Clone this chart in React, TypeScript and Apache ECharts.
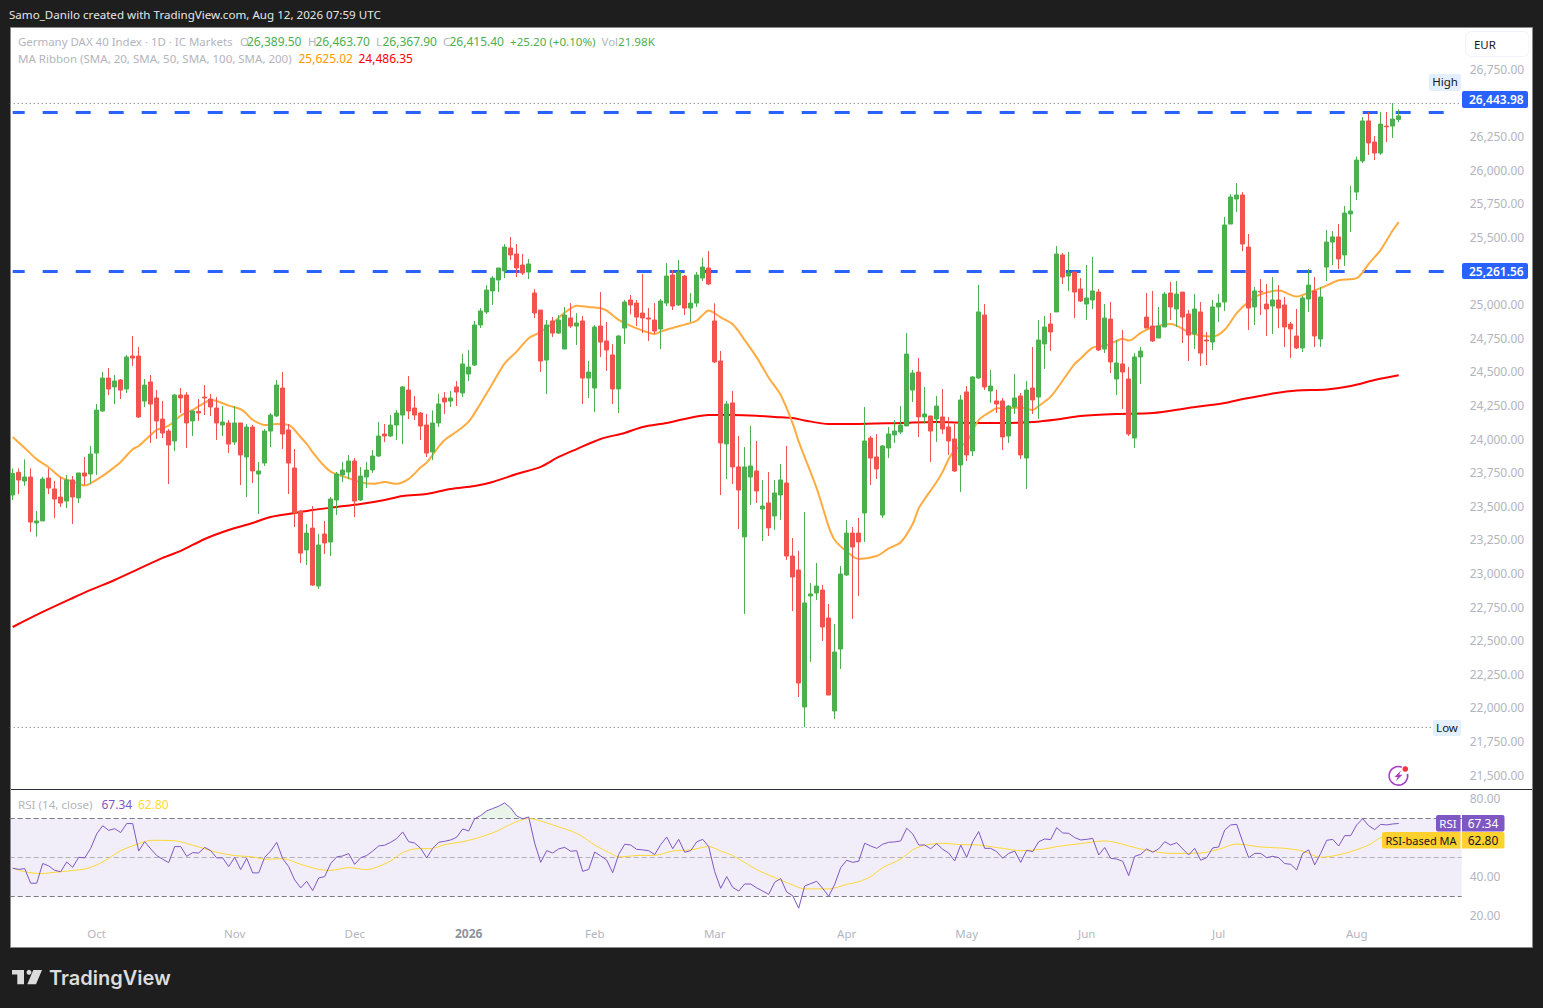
import React, { useEffect, useRef } from "react";
import * as echarts from "echarts";

const FONT = "'Noto Sans', sans-serif";
const slotCount = 242;
const monthIndex = [14, 37, 57, 76, 97, 117, 139, 159, 179, 201, 224];
const monthLabel = ["Oct", "Nov", "Dec", "2026", "Feb", "Mar", "Apr", "May", "Jun", "Jul", "Aug"];
const priceTicks = { min: 21500, max: 27000, step: 250 };
const hiddenPriceTicks = [27000, 26500, 25250];
const rsiTicks = { min: 20, max: 80, step: 20 };
const readingOffset = 22;

// rows are open, high, low, close
const candlesAutumn = [
[23573,23771,23536,23734],[23742,23771,23580,23685],[23677,23838,23642,23707],[23707,23771,23298,23372],[23365,23454,23263,23380],[23380,23709,23380,23692],[23699,23771,23580,23625],[23618,23677,23402,23543],[23558,23707,23484,23513],[23528,23722,23476,23685],
[23685,23714,23357,23558],[23551,23737,23513,23737],[23737,23856,23647,23714],[23729,23938,23655,23878],[23885,24250,23722,24205],[24198,24488,24191,24443],[24443,24518,24317,24362],[24377,24466,24250,24421],[24429,24436,24287,24354],[24362,24615,24332,24600],
[24607,24756,24533,24592],[24607,24674,24146,24153],[24272,24436,24228,24391],[24414,24466,23960,24250],[24295,24354,23990,24124],[24138,24272,23997,24034],[24049,24064,23655,23945],[23975,24324,23900,24317],[24317,24369,24183,24295],[24317,24339,23923,24109],
[24124,24205,24012,24198],[24195,24287,24124,24183],[24302,24391,24168,24295],[24287,24324,24161,24228],[24220,24302,23982,24109],[24094,24235,24012,24116],[24109,24131,23885,23952],[23967,24235,23945,24109],[24109,24109,23647,23871],[23856,24101,23558,24079],
[24079,24094,23662,23752],[23729,23819,23432,23752],[23811,24064,23789,24049],[24049,24183,23930,24168],[24161,24429,24153,24391],[24369,24488,23915,24027],[24057,24101,23580,23811],[23774,23915,23335,23439],[23454,23461,23067,23141],[23164,23357,23052,23290],
[23327,23491,22896,22903],[22896,23283,22874,23201],[23283,23380,23134,23216],[23223,23558,23119,23543],[23536,23744,23424,23729],[23722,23819,23670,23759],[23744,23871,23692,23826],[23826,23848,23409,23528],
];
const candlesWinter = [
[23536,23781,23528,23714],[23707,23819,23625,23759],[23759,23908,23737,23863],[23863,24116,23856,24012],[24027,24101,23967,24012],[24012,24168,24005,24094],[24094,24205,23982,24183],[24168,24384,23952,24377],[24354,24458,24138,24198],[24220,24310,24131,24168],
[24183,24191,23982,24086],[24094,24176,23856,23885],[23893,24203,23833,24109],[24109,24324,24079,24250],[24295,24339,24176,24265],[24272,24347,24228,24295],[24377,24421,24235,24339],[24332,24622,24302,24548],[24473,24652,24421,24525],[24540,24868,24533,24838],
[24838,24964,24815,24942],[24935,25135,24920,25098],[25091,25202,24987,25187],[25173,25262,25083,25262],[25240,25440,25187,25418],[25411,25493,25321,25359],[25366,25440,25195,25262],[25284,25366,25210,25225],[25232,25329,25180,25292],[25076,25106,24890,24927],
[24949,24949,24488,24570],[24577,24875,24324,24838],[24868,24897,24749,24778],[24778,24912,24771,24875],[24659,24972,24659,24912],[24890,25001,24815,24830],[24830,24927,24689,24853],[24868,24905,24250,24443],[24443,24570,24295,24488],[24369,24838,24191,24823],
[24830,25083,24600,24711],[24719,24860,24496,24652],[24615,24696,24250,24362],[24362,24763,24183,24756],[24815,25024,24696,25009],[25024,25061,24917,24987],[25001,25024,24830,24897],[24927,25217,24778,24890],[24890,24964,24719,24882],[24875,25001,24771,24793],
[24808,25031,24659,25016],[25001,25299,24979,25202],[25210,25247,24949,24979],[24987,25321,24979,25232],[25202,25210,24912,24964],[24964,25076,24860,25001],[25001,25232,24972,25210],[25187,25336,25165,25269],[25262,25388,25135,25143],
];
const candlesSpring = [
[24868,24999,24555,24563],[24570,24645,23573,23960],[23953,24273,23692,24250],[24258,24347,23655,23782],[23782,24012,23320,23610],[23261,23930,22688,23782],[23707,24087,23499,23789],[23752,23975,23514,23603],[23469,23685,23231,23491],[23514,23744,23268,23328],
[23417,23685,23313,23588],[23573,23804,23387,23685],[23662,23938,23090,23119],[23119,23253,22710,22963],[23015,23157,22070,22174],[21996,23447,21847,22770],[22822,22918,22331,22837],[22844,23067,22792,22896],[22866,22904,22487,22591],[22658,22762,22085,22085],
[21966,22613,21907,22405],[22427,23045,22279,22985],[22978,23387,22971,23290],[23290,23335,22651,23186],[23290,23402,22822,23224],[23439,24228,23224,23975],[23997,24012,23648,23848],[23856,24027,23692,23767],[23424,23945,23402,23938],[23923,24079,23848,24027],
[24020,24131,23960,24049],[24042,24235,24027,24094],[24087,24778,24087,24622],[24354,24503,24265,24481],[24488,24592,24005,24154],[24154,24377,24106,24176],[24161,24161,23819,24049],[24139,24310,23968,24235],[24154,24362,24027,24064],[24079,24154,23871,23975],
[23990,24101,23744,23752],[23796,24317,23596,24280],[24340,24384,23826,23871],[23901,24459,23863,24451],[24444,25136,24436,24935],[24912,24994,24354,24377],[24347,24503,24258,24384],[24273,24354,24183,24250],[24273,24295,23908,24005],[24012,24243,23960,24235],
[24228,24473,24176,24295],[24310,24332,23841,23871],[23848,24421,23618,24354],[24369,24674,24176,24280],[24302,24875,24139,24726],[24697,24905,24511,24823],[24845,24927,24645,24786],
];
const candlesSummer = [
[24935,25426,24935,25366],[25359,25373,25143,25195],[25202,25381,25091,25225],[25232,25232,24890,25083],[25106,25187,25009,25016],[24994,25284,24875,25039],[25024,25344,24957,25091],[25083,25106,24644,24652],[24659,24994,24629,24890],[24882,25009,24481,24563],
[24436,24726,24317,24555],[24548,24801,24213,24488],[24436,24525,24012,24027],[23997,24629,23923,24600],[24600,24674,24399,24644],[24897,25076,24815,24815],[24830,25091,24711,24719],[24741,24972,24741,24830],[24823,25083,24823,25068],[25076,25158,24875,24972],
[24957,25165,24823,25068],[25083,25083,24704,24897],[24920,24949,24570,24763],[24771,25068,24659,24957],[24935,25009,24533,24629],[24726,24786,24540,24719],[24711,25024,24652,24972],[24972,25068,24860,25001],[25009,25641,24942,25582],[25589,25812,25589,25790],
[25775,25894,25679,25805],[25805,25827,25388,25440],[25418,25515,24801,24964],[24972,25121,24838,25091],[25088,25180,24912,25083],[24994,25143,24756,24957],[24979,25195,24771,25024],[25024,25135,24815,24964],[24987,25046,24674,24823],[24845,24860,24592,24808],
[24756,24957,24659,24667],[24667,25054,24637,25039],[25031,25254,24935,25135],[25091,25195,24674,24756],[24734,25121,24674,25046],[25269,25545,25165,25455],[25455,25537,25284,25493],[25493,25589,25254,25329],[25359,25723,25277,25671],[25664,25872,25530,25686],
[25827,26090,25768,26065],[26058,26385,26043,26356],[26356,26423,26103,26192],[26199,26244,26065,26117],[26117,26423,26103,26333],[26318,26423,26199,26313],[26318,26489,26229,26370],
];
const lastCandle = [26389.5, 26463.7, 26367.9, 26415.4];

// [candle index, value]
const sma20 = [
[0,24027],[2,23945],[4,23861],[6,23801],[8,23727],[10,23695],[12,23665],[13,23683],[15,23737],[17,23804],[18,23841],[20,23935],[21,23960],[23,24042],[24,24079],[26,24112],[27,24146],[28,24186],[30,24228],[32,24283],[33,24302],[34,24295],[36,24260],[38,24233],[39,24198],[40,24154],[42,24116],[44,24124],[46,24116],[48,24025],[49,23975],[50,23913],[52,23807],[53,23769],[54,23749],[56,23720],[58,23690],[60,23678],[62,23692],[64,23678],[66,23715],[68,23801],[69,23836],[71,23955],[72,24005],[74,24067],[76,24141],[78,24278],[80,24426],[82,24575],[84,24662],[86,24761],[88,24808],[90,24873],[92,24952],[94,25004],[96,24994],[98,24984],[99,24967],[101,24898],[103,24853],[105,24818],[107,24793],[108,24811],[110,24838],[112,24863],[114,24893],[115,24935],[116,24967],
[117,24947],[118,24917],[120,24865],[122,24748],[124,24619],[126,24468],[128,24339],[130,24128],[131,23992],[134,23645],[136,23360],[137,23260],[139,23174],[141,23119],[144,23141],[146,23198],[148,23243],[150,23379],[151,23496],[152,23565],[154,23694],[155,23769],[156,23863],[157,23930],[159,23992],[161,24153],[163,24215],[164,24240],[166,24240],[168,24247],[170,24228],[171,24257],[173,24327],
[175,24447],[177,24571],[178,24610],[180,24692],[182,24705],[184,24742],[185,24757],[186,24744],[188,24801],[190,24843],[193,24868],[196,24806],[198,24781],[200,24774],[202,24824],[204,24948],[206,25034],[208,25089],[211,25116],[214,25072],[216,25101],[219,25153],[221,25193],[224,25208],[226,25315],[228,25419],[230,25563],[231,25625.02],
];
const sma200 = [
[0,22613],[5,22725],[10,22829],[13,22889],[17,22963],[21,23045],[25,23127],[28,23179],[32,23268],[36,23335],[40,23387],[43,23432],[47,23461],[50,23484],[54,23506],[58,23528],[62,23558],[65,23588],[69,23603],[73,23640],[77,23662],[80,23692],[84,23751],[88,23804],[91,23878],[94,23937],[98,24012],[102,24057],[105,24101],[109,24131],[112,24161],[116,24190],[120,24190],[124,24185],[127,24176],[130,24168],[132,24150],[136,24123],[140,24123],[148,24131],[154,24138],[160,24131],[166,24131],[170,24138],[174,24157],[178,24183],[184,24198],[190,24205],[196,24243],[202,24280],[205,24309],[210,24350],[214,24373],[219,24380],[223,24406],[227,24451],[231,24486.35],
];
const rsi = [
44.4,43.8,44.2,36.7,36.7,46.8,45.6,43.3,42.6,47.6,44.9,50.0,49.7,54.6,62.0,66.2,63.8,64.7,62.7,67.3,67.3,53.2,58.0,54.3,50.9,49.0,47.3,55.5,55.5,50.5,52.4,52.2,55.1,53.4,49.7,49.7,45.2,50.0,43.7,49.5,42.0,42.0,50.0,53.2,57.7,49.3,45.2,38.4,34.3,37.7,32.9,39.4,40.1,46.8,50.2,50.7,51.9,46.4,49.8,50.9,53.2,55.8,56.2,57.7,59.6,63.0,58.0,57.3,54.6,49.7,54.6,57.7,58.2,58.9,60.3,64.5,63.5,69.8,71.4,73.8,75.0,76.2,
77.9,75.3,71.2,69.7,70.7,57.2,47.4,53.4,52.2,54.3,55.1,53.1,53.4,42.8,43.8,52.7,50.7,48.6,42.1,51.5,56.7,56.3,54.1,53.8,53.4,51.4,56.5,60.4,54.4,59.2,52.6,53.4,57.9,59.2,55.5,42.6,34.1,40.1,34.6,32.7,36.3,36.3,34.3,32.7,31.0,37.2,39.1,32.2,30.3,23.9,35.3,36.5,37.7,34.1,30.0,36.1,44.7,48.5,47.4,48.0,57.2,55.8,54.6,56.7,57.7,57.9,58.4,64.9,62.0,56.3,56.3,54.4,57.0,54.1,52.2,48.1,56.3,50.0,58.0,63.2,54.6,54.6,52.9,
49.5,52.0,53.2,47.4,53.6,52.9,58.0,59.4,59.1,65.2,62.5,62.3,60.1,58.9,59.2,59.7,51.2,55.0,49.5,49.1,48.0,40.6,50.5,51.5,54.3,52.6,54.3,58.0,56.3,57.5,54.3,51.2,54.6,48.5,49.8,54.8,55.3,64.0,66.6,66.9,58.0,49.8,52.0,52.0,49.8,50.5,49.8,46.8,46.4,43.5,52.0,53.8,46.1,52.0,58.7,59.2,55.8,61.1,61.1,66.6,69.8,66.2,64.2,66.9,66.6,67.1,67.34,
];
// [candle index, value]
const rsiMa = [
[0,44.4],[2,42.6],[5,41.6],[6,42.0],[8,42.6],[12,44.0],[14,46.1],[16,49.5],[18,53.4],[21,57.0],[23,58.7],[27,58.5],[30,56.2],[34,52.6],[37,50.9],[40,50.2],[42,49.0],[45,49.3],[48,46.4],[51,43.8],[53,43.3],[56,44.7],[59,43.7],[60,44.2],[63,48.1],[65,52.4],[67,54.3],[70,54.6],[72,56.5],[75,58.0],[78,60.4],[81,63.8],
[82,65.5],[83,66.9],[84,68.3],[86,70.0],[88,68.6],[90,66.6],[94,62.3],[97,56.3],[100,51.5],[101,50.2],[104,50.9],[107,51.0],[110,53.2],[113,53.8],[116,55.5],[118,53.2],[120,50.9],[124,43.7],[127,39.6],[130,35.8],[132,33.8],[136,33.8],[139,36.1],[141,37.5],[143,40.1],[145,44.7],[148,49.1],[150,53.8],[152,56.2],[155,57.2],[158,56.5],[161,56.3],[164,55.0],
[165,54.6],[168,53.4],[172,54.3],[174,55.5],[178,57.0],[182,58.4],[184,57.5],[186,55.8],[189,53.6],[193,52.0],[198,52.2],[201,54.1],[204,56.8],[208,55.3],[212,54.6],[215,53.2],[218,50.0],[222,52.0],[226,56.3],[228,60.1],[231,62.8],
];
const resistanceLevels = [26443.98, 25261.56];
const highLevel = 26512;
const lowLevel = 21866;
const rsiBands = [70, 50, 30];

const C = {
  up: "#4caf50", down: "#f05350", axis: "#b2b5be", dark: "#131722", blue: "#2962ff",
  sma20: "#ffab40", sma200: "#ff0000", rsi: "#7e57c2", rsiMa: "#fdd835", badge: "#ffd12e",
};

function text(x: number, y: number, t: string, fill: string, extra: any = {}) {
  return {
    type: "text", x, y, z: 100,
    style: { text: t, fill, font: `${extra.weight || 400} ${extra.size || 12}px ${extra.family || FONT}`, textAlign: extra.align || "left", textVerticalAlign: "middle" },
  };
}
function box(x: number, y: number, w: number, h: number, fill: string, r: any = 0, stroke?: string) {
  return { type: "rect", z: 99, shape: { x, y, width: w, height: h, r }, style: { fill, stroke } };
}

export default function App() {
  const ref = useRef<HTMLDivElement>(null);
  useEffect(() => {
    document.body.style.margin = "0";
    document.body.style.background = "#1e1e1e";
    const chart = echarts.init(ref.current!, undefined, { renderer: "svg" });
    const rows = [...candlesAutumn, ...candlesWinter, ...candlesSpring, ...candlesSummer]
      .map((r) => r.map((v) => v + readingOffset));
    rows.push(lastCandle);
    const candleData = rows.map(([o, h, l, c]) => [o, c, l, h]);
    const categories = Array.from({ length: slotCount }, (_, i) => String(i));
    const overbought = rsi.map((v) => (v > 70 ? v : null));
    const gridLeft = 9.7, gridWidth = 1452;
    const lbl = { size: 11.45 };

    chart.setOption({
      animation: false,
      backgroundColor: "#1e1e1e",
      tooltip: { show: false },
      grid: [
        { left: gridLeft, width: gridWidth, top: 37.35, height: 739.25 },
        { left: gridLeft, width: gridWidth, top: 798.8, height: 117 },
      ],
      xAxis: [
        { type: "category", gridIndex: 0, data: categories, axisLine: { show: false }, axisTick: { show: false }, axisLabel: { show: false }, splitLine: { show: false } },
        {
          type: "category", gridIndex: 1, data: categories, axisLine: { show: false }, axisTick: { show: false }, splitLine: { show: false },
          axisLabel: {
            margin: 12, color: C.axis, fontFamily: FONT, fontSize: 11.5,
            interval: (i: number) => monthIndex.includes(i),
            formatter: (v: string) => {
              const k = monthIndex.indexOf(Number(v));
              if (k < 0) return "";
              return monthLabel[k] === "2026" ? "{y|2026}" : monthLabel[k];
            },
            rich: { y: { fontWeight: 700, color: "#8f929c", fontFamily: FONT, fontSize: 12 } },
          },
        },
      ],
      yAxis: [
        {
          type: "value", gridIndex: 0, position: "right", min: priceTicks.min, max: priceTicks.max, interval: priceTicks.step,
          axisLine: { show: false }, axisTick: { show: false }, splitLine: { show: false },
          axisLabel: {
            margin: 8, color: C.axis, fontFamily: FONT, fontSize: 12, verticalAlign: "bottom", lineHeight: 3, showMinLabel: true, showMaxLabel: true,
            formatter: (v: number) => (hiddenPriceTicks.includes(v) ? "" : v.toLocaleString("en-US", { minimumFractionDigits: 2 })),
          },
        },
        {
          type: "value", gridIndex: 1, position: "right", min: rsiTicks.min, max: rsiTicks.max, interval: rsiTicks.step,
          axisLine: { show: false }, axisTick: { show: false }, splitLine: { show: false },
          axisLabel: {
            margin: 8, color: C.axis, fontFamily: FONT, fontSize: 12,
            formatter: (v: number) => (v === 60 ? "" : v.toFixed(2)),
          },
        },
      ],
      series: [
        {
          name: "SMA 200", type: "line", xAxisIndex: 0, yAxisIndex: 0, z: 2, data: sma200, showSymbol: false, symbol: "none", smooth: 0.3,
          lineStyle: { color: C.sma200, width: 2 }, silent: true,
          markLine: {
            silent: true, z: 1, symbol: ["none", "none"], label: { show: false }, animation: false,
            data: [
              ...resistanceLevels.map((v) => [
                { coord: [0, v], lineStyle: { color: C.blue, width: 3, type: [15, 18], dashOffset: 2.7 } },
                { coord: [239, v] },
              ]),
              { yAxis: highLevel, lineStyle: { color: "#787b86", width: 1, type: [1, 3] } },
              { yAxis: lowLevel, lineStyle: { color: "#787b86", width: 1, type: [1, 3] } },
            ],
          },
        },
        {
          name: "SMA 20", type: "line", xAxisIndex: 0, yAxisIndex: 0, z: 2, data: sma20, showSymbol: false, symbol: "none", smooth: 0.3,
          lineStyle: { color: C.sma20, width: 2 }, silent: true,
        },
        {
          name: "DAX", type: "candlestick", xAxisIndex: 0, yAxisIndex: 0, z: 3, data: candleData, barWidth: 5, silent: true,
          itemStyle: { color: C.up, color0: C.down, borderColor: C.up, borderColor0: C.down, borderWidth: 1 },
        },
        {
          name: "Overbought", type: "line", xAxisIndex: 1, yAxisIndex: 1, z: 2, data: overbought, showSymbol: false, symbol: "none", silent: true,
          lineStyle: { width: 0 }, areaStyle: { origin: 70, color: "rgba(76,175,80,0.18)" },
        },
        {
          name: "RSI-based MA", type: "line", xAxisIndex: 1, yAxisIndex: 1, z: 3, data: rsiMa, showSymbol: false, symbol: "none", smooth: 0.3, silent: true,
          lineStyle: { color: C.rsiMa, width: 1 },
        },
        {
          name: "RSI", type: "line", xAxisIndex: 1, yAxisIndex: 1, z: 4, data: rsi, showSymbol: false, symbol: "none", silent: true,
          lineStyle: { color: C.rsi, width: 1 },
          markArea: { silent: true, z: 1, itemStyle: { color: "rgba(126,87,194,0.1)" }, data: [[{ yAxis: 30 }, { yAxis: 70 }]] },
          markLine: {
            silent: true, z: 1, symbol: ["none", "none"], label: { show: false }, animation: false,
            data: rsiBands.map((v) => ({
              yAxis: v,
              lineStyle: { color: v === 50 ? "rgba(120,123,134,0.55)" : "#787b86", width: 1, type: [5, 3] },
            })),
          },
        },
      ],
      graphic: {
        elements: [
          { type: "rect", z: -1, shape: { x: 10.5, y: 27.5, width: 1522, height: 920 }, style: { fill: "#ffffff", stroke: "#8a8a8a", lineWidth: 1 } },
          { type: "line", z: 1, shape: { x1: 11, y1: 789.5, x2: 1532, y2: 789.5 }, style: { stroke: "#2a2e39", lineWidth: 1 } },
          text(9, 14.5, "Samo_Danilo created with TradingView.com, Aug 12, 2026 07:59 UTC", "#e6e6e6", { size: 11.6 }),

          text(18, 41.5, "Germany DAX 40 Index · 1D · IC Markets", C.axis, lbl),
          text(240, 41.5, "O", C.axis, lbl), text(247, 41.5, "26,389.50", C.up),
          text(308, 41.5, "H", C.axis, lbl), text(315.5, 41.5, "26,463.70", C.up),
          text(376, 41.5, "L", C.axis, lbl), text(382.5, 41.5, "26,367.90", C.up),
          text(443, 41.5, "C", C.axis, lbl), text(449.5, 41.5, "26,415.40", C.up),
          text(510, 41.5, "+25.20 (+0.10%)", C.up, { size: 11.6 }),
          text(601.5, 41.5, "Vol", C.axis, lbl), text(618, 41.5, "21.98K", C.up, { size: 11.6 }),
          text(18, 58.5, "MA Ribbon (SMA, 20, SMA, 50, SMA, 100, SMA, 200)", C.axis, { size: 11.5 }),
          text(298.5, 58.5, "25,625.02", "#ff9800"),
          text(358.5, 58.5, "24,486.35", C.sma200),

          box(1465.5, 31.5, 63.5, 25, "#ffffff", 6, "#f0f3fa"),
          text(1474, 44.5, "EUR", C.dark, lbl),
          box(1429, 74, 32, 17, "#e3effd", 2),
          text(1445, 81.5, "High", C.dark, { align: "center", size: 11.5 }),
          box(1433, 720, 28, 16, "#e3effd", 2),
          text(1447, 727.5, "Low", C.dark, { align: "center", size: 11.5 }),
          box(1462, 91, 66, 17, C.blue, 2),
          text(1469, 99, "26,443.98", "#ffffff", { weight: 600 }),
          box(1462, 263, 66, 16, C.blue, 2),
          text(1469, 271, "25,261.56", "#ffffff", { weight: 600 }),

          text(18, 804.5, "RSI (14, close)", C.axis, { size: 11.6 }),
          text(101.5, 804.5, "67.34", C.rsi),
          text(138, 804.5, "62.80", C.rsiMa),
          box(1436, 815, 24.5, 16.5, C.rsi, [2, 0, 0, 2]),
          text(1448, 823.5, "RSI", "#ffffff", { align: "center", size: 11.5 }),
          box(1462, 815, 42.5, 16.5, C.rsi, [0, 2, 2, 0]),
          text(1483, 823.5, "67.34", "#ffffff", { align: "center" }),
          box(1382, 832, 78.5, 16.5, C.badge, [2, 0, 0, 2]),
          text(1421, 840.5, "RSI-based MA", C.dark, { align: "center", size: 11 }),
          box(1462, 832, 42.5, 16.5, C.badge, [0, 2, 2, 0]),
          text(1483, 840.5, "62.80", C.dark, { align: "center" }),

          { type: "arc", z: 100, shape: { cx: 1398.4, cy: 775.8, r: 9.3, startAngle: -0.2, endAngle: Math.PI * 2 - 1.2, clockwise: true }, style: { fill: "none", stroke: "#a63fc4", lineWidth: 1.6 } },
          { type: "polygon", z: 101, shape: { points: [[1401, 770.5], [1394.5, 777], [1397.7, 777], [1396, 781], [1402.5, 774.7], [1399.2, 774.7]] }, style: { fill: "#a63fc4" } },
          { type: "circle", z: 102, shape: { cx: 1405.3, cy: 769, r: 2.8 }, style: { fill: "#f23645" } },

          { type: "polygon", z: 100, shape: { points: [[12, 970], [24, 970], [24, 984.3], [17.3, 984.3], [17.3, 974.5], [12, 974.5]] }, style: { fill: "#dcdcdc" } },
          { type: "circle", z: 100, shape: { cx: 29, cy: 972.3, r: 2.5 }, style: { fill: "#dcdcdc" } },
          { type: "polygon", z: 100, shape: { points: [[42, 970], [36, 984.3], [27.3, 984.3], [33.3, 970]] }, style: { fill: "#dcdcdc" } },
          text(49, 978, "TradingView", "#dcdcdc", { size: 20, weight: 600, family: "Inter, sans-serif" }),
        ],
      },
    });
    return () => chart.dispose();
  }, []);
  return <div ref={ref} style={{ width: 1543, height: 1008 }} />;
}
